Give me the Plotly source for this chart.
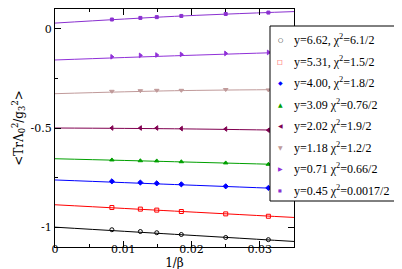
import plotly.graph_objects as go

inv_beta = [0.00833, 0.0125, 0.0149, 0.0185, 0.025, 0.03125]

labels = ["y=6.62, χ<sup>2</sup>=6.1/2", "y=5.31, χ<sup>2</sup>=1.5/2", "y=4.00, χ<sup>2</sup>=1.8/2",
          "y=3.09 χ<sup>2</sup>=0.76/2", "y=2.02 χ<sup>2</sup>=1.9/2", "y=1.18 χ<sup>2</sup>=1.2/2",
          "y=0.71 χ<sup>2</sup>=0.66/2", "y=0.45 χ<sup>2</sup>=0.0017/2"]

vals_662 = [-1.013, -1.022, -1.028, -1.037, -1.052, -1.063]
vals_531 = [-0.901, -0.909, -0.914, -0.921, -0.933, -0.945]
vals_400 = [-0.769, -0.775, -0.779, -0.784, -0.794, -0.802]
vals_309 = [-0.661, -0.665, -0.666, -0.670, -0.676, -0.683]
vals_202 = [-0.500, -0.500, -0.500, -0.503, -0.505, -0.511]
vals_118 = [-0.315, -0.312, -0.310, -0.310, -0.306, -0.308]
vals_071 = [-0.141, -0.134, -0.132, -0.129, -0.124, -0.119]
vals_045 = [0.047, 0.055, 0.059, 0.065, 0.075, 0.082]

fit_x = [0.0, 0.0175, 0.035]
fit_662 = [-1.000, -1.036, -1.072]
fit_531 = [-0.887, -0.919, -0.951]
fit_400 = [-0.762, -0.785, -0.808]
fit_309 = [-0.655, -0.670, -0.686]
fit_202 = [-0.500, -0.504, -0.512]
fit_118 = [-0.327, -0.312, -0.306]
fit_071 = [-0.157, -0.136, -0.117]
fit_045 = [0.029, 0.063, 0.087]

series = [vals_662, vals_531, vals_400, vals_309, vals_202, vals_118, vals_071, vals_045]
fits = [fit_662, fit_531, fit_400, fit_309, fit_202, fit_118, fit_071, fit_045]
colors = ["#000000", "#ff0000", "#0000ff", "#00a000", "#800050", "#c09a9a", "#9030d8", "#8a30d0"]
symbols = ["circle-open", "square-open", "diamond", "triangle-up", "triangle-left",
           "triangle-down", "triangle-right", "square"]
legend_glyphs = ["○", "□", "◆", "▲", "◀", "▼", "▶", "■"]

serif = "Liberation Serif"
tickserif = "DejaVu Serif"

W, H = 402, 269
ML, MR, MT, MB = 47, 116, 1, 30
PW, PH = W - ML - MR, H - MT - MB


def px_x(p):
    return (p - ML) / PW


def px_y(p):
    return 1 - (p - MT) / PH


fig = go.Figure()
for i in range(8):
    fig.add_trace(go.Scatter(x=fit_x, y=fits[i], mode="lines", line=dict(color=colors[i], width=1),
                             line_shape="spline", showlegend=False, hoverinfo="skip"))
for i in range(8):
    fig.add_trace(go.Scatter(x=inv_beta, y=series[i], mode="markers", name=labels[i],
                             showlegend=False,
                             marker=dict(symbol=symbols[i], color=colors[i],
                                         size=3 if i == 7 else 4,
                                         line=dict(color=colors[i], width=1))))

axis_common = dict(showgrid=False, zeroline=False, showline=True, linecolor="black", linewidth=1,
                   mirror="ticks", ticks="inside", ticklen=6, tickcolor="black",
                   tickfont=dict(family=tickserif, size=11, color="black"))
fig.update_xaxes(range=[0, 0.035], tickvals=[0, 0.01, 0.02, 0.03],
                 ticktext=["0", "0.01", "0.02", "0.03"], ticklabelstandoff=-8,
                 minor=dict(dtick=0.005, ticks="inside", ticklen=3, tickcolor="black"),
                 title=dict(text="1/β", font=dict(family=tickserif, size=12, color="black"), standoff=0),
                 **axis_common)
fig.update_yaxes(range=[-1.1, 0.1], tickvals=[-1, -0.5, 0], ticktext=["-1", "-0.5", "0"],
                 minor=dict(dtick=0.25, ticks="inside", ticklen=3, tickcolor="black"),
                 title=dict(text="&lt;TrΛ<sub>0</sub><sup>2</sup>/g<sub>3</sub><sup>2</sup>&gt;",
                            font=dict(family=tickserif, size=12, color="black"), standoff=4),
                 **axis_common)

fig.add_shape(type="rect", xref="paper", yref="paper", layer="above",
              x0=px_x(262), x1=px_x(401), y0=px_y(193), y1=px_y(18),
              fillcolor="white", line=dict(color="black", width=1))
for i in range(8):
    yc = px_y(31.5 + 21.5 * i)
    fig.add_annotation(xref="paper", yref="paper", x=px_x(272), y=yc, text=legend_glyphs[i],
                       showarrow=False, xanchor="center", yanchor="middle",
                       font=dict(family="DejaVu Sans", size=6 if i != 7 else 4, color=colors[i]))
    fig.add_annotation(xref="paper", yref="paper", x=px_x(284), y=yc, text=labels[i],
                       showarrow=False, xanchor="left", yanchor="middle",
                       font=dict(family=serif, size=12, color="black"))

fig.update_layout(
    width=W, height=H, margin=dict(l=ML, r=MR, t=MT, b=MB),
    paper_bgcolor="white", plot_bgcolor="white", showlegend=False,
    font=dict(family=serif, size=12, color="black"),
)
fig.write_html("out.html")
